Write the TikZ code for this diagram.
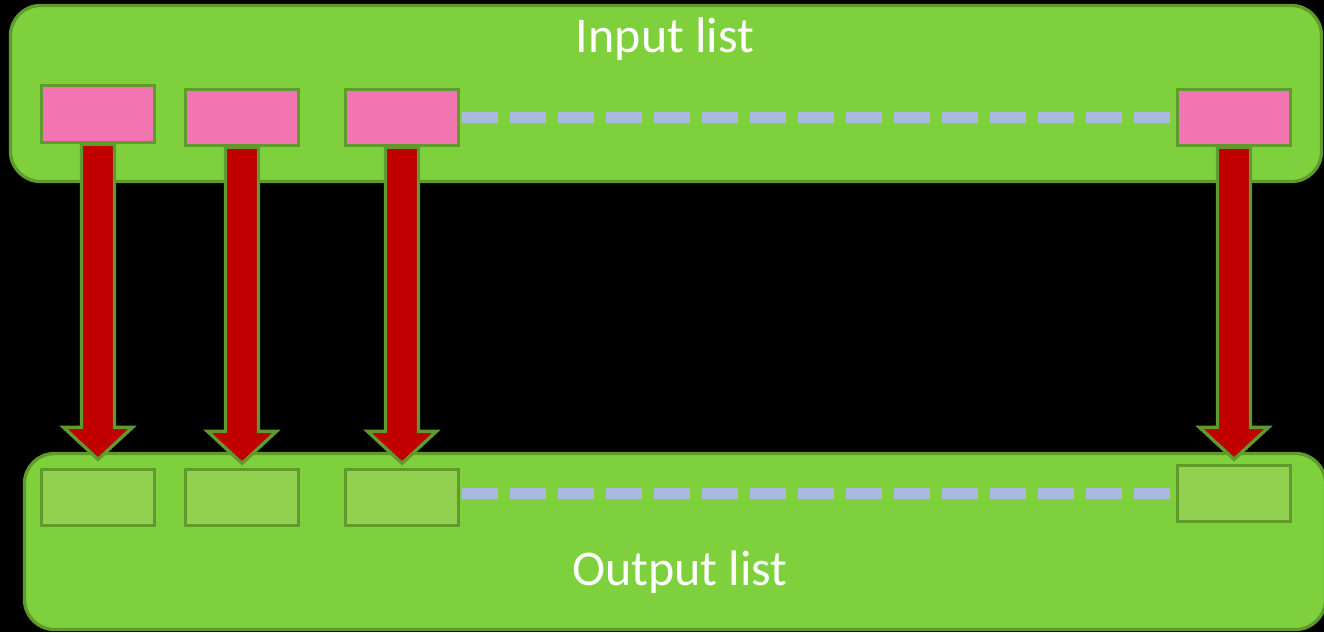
\documentclass[tikz,border=0pt]{standalone}
\usepackage{fontspec}
\setmainfont{Carlito}
\usetikzlibrary{calc}
\definecolor{cfill}{HTML}{7ED13C}
\definecolor{cedge}{HTML}{5F9B2C}
\definecolor{pinkbox}{HTML}{F274B1}
\definecolor{lgreen}{HTML}{92D050}
\definecolor{dashc}{HTML}{AAB9E0}
\definecolor{darkred}{HTML}{C00000}
\tikzset{
  container/.style={fill=cfill,draw=cedge,line width=3.3pt,rounded corners=30pt},
  inbox/.style={rectangle,fill=pinkbox,draw=cedge,line width=3.3pt,minimum width=113pt,minimum height=56pt,inner sep=0pt},
  outbox/.style={rectangle,fill=lgreen,draw=cedge,line width=3.3pt,minimum width=113pt,minimum height=56pt,inner sep=0pt},
  dotline/.style={draw=dashc,line width=11pt,dash pattern=on 36pt off 12pt},
  barrow/.style={fill=darkred,draw=cedge,line width=3.3pt,line join=miter},
  lbl/.style={text=white,font=\fontsize{50pt}{60pt}\selectfont,inner sep=0pt,anchor=base}
}
\newcommand\blockarrow[3]{%
  \draw[barrow] let \p1=(#1.south), \p2=($(#2.north)+(0,#3)$) in
    (\x1-16.5pt,\y1) -- (\x1-16.5pt,\y2+32pt) -- (\x1-34.5pt,\y2+32pt) --
    (\x1,\y2) -- (\x1+34.5pt,\y2+32pt) -- (\x1+16.5pt,\y2+32pt) --
    (\x1+16.5pt,\y1) -- cycle;}
\begin{document}
\begin{tikzpicture}[x=1pt,y=-1pt]
  \fill[black] (0,0) rectangle (1324,632);
  \useasboundingbox (0,0) rectangle (1324,632);
  \begin{scope}
    \clip (0,0) rectangle (1324,632);
    \draw[container] (10.5,5.5) rectangle (1321.5,181.5);
    \draw[container] (24.5,453.5) rectangle (1325.5,629.5);
  \end{scope}
  % input boxes
  \node[inbox,minimum height=57pt] (i1) at (98,114) {};
  \node[inbox] (i2) at (242,117.5) {};
  \node[inbox] (i3) at (402,117.5) {};
  \node[inbox] (i4) at (1234,117.5) {};
  % output boxes
  \node[outbox] (o1) at (98,497.5) {};
  \node[outbox] (o2) at (242,497.5) {};
  \node[outbox] (o3) at (402,497.5) {};
  \node[outbox] (o4) at (1234,493.5) {};
  % dashed lines
  \draw[dotline] ($(i3.east)+(1.5,0)$) -- (i4.west);
  \draw[dotline] ($(o3.east |- o4.west)+(1.5,0)$) -- (o4.west);
  % labels
  \node[lbl] (tin) at (665,52) {Input list};
  \node[lbl] (tout) at (680,585) {Output list};
  % arrows
  \blockarrow{i1}{o1}{-8.5}
  \blockarrow{i2}{o2}{-4.5}
  \blockarrow{i3}{o3}{-4.5}
  \blockarrow{i4}{o4}{-4.5}
\end{tikzpicture}
\end{document}
